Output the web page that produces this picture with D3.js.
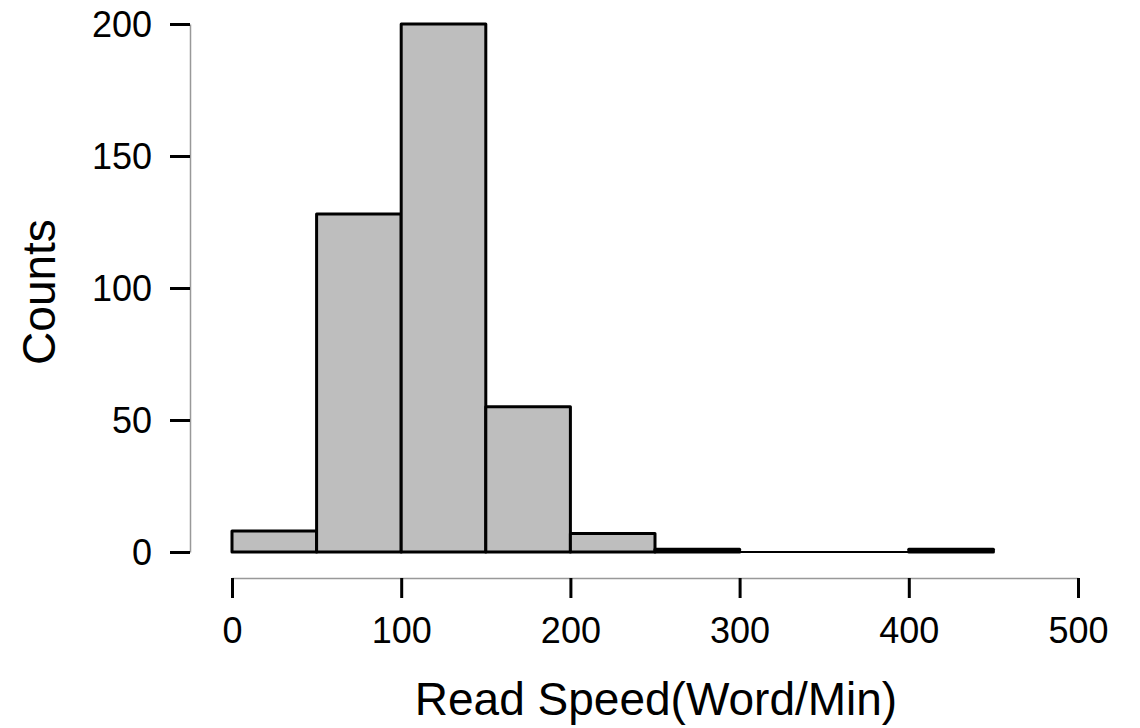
<!DOCTYPE html>
<meta charset="utf-8">
<body style="margin:0;background:#fff">
<style>
    text { font-family: "Liberation Sans", Arial, sans-serif; fill: #000; }
    .bar { fill: #bebebe; stroke: #000; stroke-width: 3px; stroke-linejoin: round; }
    .axis .domain { stroke: #999; stroke-width: 1.5px; }
    .axis .tick line { stroke: #000; stroke-width: 3px; }
    .axis .tick text { font-size: 36px; }
</style>
<script src="https://d3js.org/d3.v7.min.js"></script>
<script>
    // histogram bins (word/min) and counts
    var binStarts = [0, 50, 100, 150, 200, 250, 300, 350, 400];
    var binWidth = 50;
    var counts = [8, 128, 200, 55, 7, 1, 0, 0, 1];
    var xTicks = [0, 100, 200, 300, 400, 500];
    var yTicks = [0, 50, 100, 150, 200];

    var width = 1140, height = 728;
    var x = d3.scaleLinear().domain([0, 500]).range([232, 1078]);
    var y = d3.scaleLinear().domain([0, 200]).range([552, 24]);

    var svg = d3.select("body").append("svg")
        .attr("width", width)
        .attr("height", height);

    // bars as closed paths so that empty bins still show a line at zero
    svg.selectAll(".bar")
        .data(binStarts)
        .enter().append("path")
        .attr("class", "bar")
        .attr("d", function(d, i) {
            var x0 = x(d), x1 = x(d + binWidth), y0 = y(0), y1 = y(counts[i]);
            return "M" + x0 + "," + y0 + "V" + y1 + "H" + x1 + "V" + y0 + "Z";
        })
        .style("stroke-width", function(d, i) { return counts[i] === 0 ? "2px" : null; });

    // y axis, pulled away from the plot like base R
    var yAxis = svg.append("g")
        .attr("class", "axis")
        .attr("transform", "translate(190,0)")
        .call(d3.axisLeft(y).tickValues(yTicks).tickSize(20).tickPadding(18).tickSizeOuter(0));
    yAxis.selectAll(".tick text").attr("dy", "0.36em");

    // x axis
    svg.append("g")
        .attr("class", "axis")
        .attr("transform", "translate(0,578)")
        .call(d3.axisBottom(x).tickValues(xTicks).tickSize(20).tickPadding(19).tickSizeOuter(0));

    // titles
    svg.append("text")
        .attr("x", 656)
        .attr("y", 715)
        .attr("text-anchor", "middle")
        .style("font-size", "46px")
        .text("Read Speed(Word/Min)");

    svg.append("text")
        .attr("transform", "translate(55,292) rotate(-90)")
        .attr("text-anchor", "middle")
        .style("font-size", "46px")
        .text("Counts");
</script>
